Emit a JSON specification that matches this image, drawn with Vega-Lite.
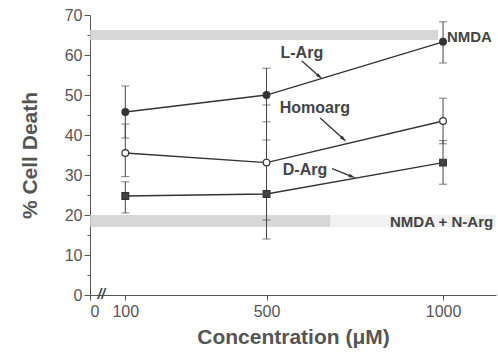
{
  "$schema": "https://vega.github.io/schema/vega-lite/v6.json",
  "width": 406,
  "height": 280,
  "autosize": "none",
  "padding": {"left": 90, "top": 15, "right": 2, "bottom": 57},
  "background": "white",
  "config": {
    "view": {"stroke": null},
    "font": "Liberation Sans",
    "axis": {
      "grid": false,
      "domainColor": "#555",
      "tickColor": "#555",
      "labelColor": "#555",
      "labelFont": "Liberation Sans",
      "labelFontSize": 16,
      "titleFont": "Liberation Sans",
      "titleFontSize": 21,
      "titleFontWeight": "bold",
      "titleColor": "#555"
    },
    "axisX": {"format": "d", "tickSize": 5, "labelPadding": 3, "titlePadding": 7},
    "axisY": {
      "labelExpr": "datum.value % 10 === 0 ? datum.label : ''",
      "tickSize": {"condition": {"test": "datum.value % 10 === 0", "value": 6}, "value": 3},
      "labelPadding": 2, "titlePadding": 24
    }
  },
  "datasets": {
    "series": [
      {"series": "L-Arg", "conc": 100, "mean": 45.75, "lo": 39.25, "hi": 52.25},
      {"series": "L-Arg", "conc": 500, "mean": 50.0, "lo": 43.3, "hi": 56.7},
      {"series": "L-Arg", "conc": 1000, "mean": 63.3, "lo": 58.0, "hi": 68.3},
      {"series": "Homoarg", "conc": 100, "mean": 35.5, "lo": 29.6, "hi": 42.75},
      {"series": "Homoarg", "conc": 500, "mean": 33.1, "lo": 18.75, "hi": 47.5},
      {"series": "Homoarg", "conc": 1000, "mean": 43.5, "lo": 37.8, "hi": 49.2},
      {"series": "D-Arg", "conc": 100, "mean": 24.75, "lo": 20.5, "hi": 28.3},
      {"series": "D-Arg", "conc": 500, "mean": 25.25, "lo": 14.0, "hi": 38.75},
      {"series": "D-Arg", "conc": 1000, "mean": 33.1, "lo": 27.7, "hi": 38.6}
    ],
    "bands": [
      {"band": "NMDA", "part": "main", "x": 0, "x2": 986, "y": 63.75, "y2": 66.25},
      {"band": "NMDA + N-Arg", "part": "main", "x": 0, "x2": 680, "y": 17.0, "y2": 20.0},
      {"band": "NMDA + N-Arg", "part": "faint", "x": 680, "x2": 1150, "y": 17.0, "y2": 20.0}
    ],
    "labels": [
      {"label": "L-Arg", "x": 600, "y": 60.5, "align": "center"},
      {"label": "Homoarg", "x": 637, "y": 46.75, "align": "center"},
      {"label": "D-Arg", "x": 609, "y": 31.25, "align": "center"},
      {"label": "NMDA", "x": 1011, "y": 64.5, "align": "left"},
      {"label": "NMDA + N-Arg", "x": 1142, "y": 18.25, "align": "right"},
      {"label": "//", "x": 32, "y": 0, "align": "center"}
    ],
    "arrows": [
      {"label": "L-Arg", "x": 600, "y": 58.5, "x2": 650, "y2": 54.6},
      {"label": "Homoarg", "x": 652, "y": 44.25, "x2": 718, "y2": 39.0},
      {"label": "D-Arg", "x": 686, "y": 31.6, "x2": 742, "y2": 29.6}
    ]
  },
  "layer": [
    {
      "data": {"name": "bands"},
      "transform": [{"filter": "datum.part === 'main'"}],
      "mark": {"type": "rect", "color": "#d0d0d0", "opacity": 0.85},
      "encoding": {
        "x": {"field": "x", "type": "quantitative", "scale": {"domain": [0, 1150], "nice": false}, "title": "Concentration (μM)", "axis": {"values": [0, 100, 500, 1000]}},
        "x2": {"field": "x2"},
        "y": {"field": "y", "type": "quantitative", "scale": {"domain": [0, 70], "nice": false}, "title": "% Cell Death", "axis": {"values": [0, 5, 10, 15, 20, 25, 30, 35, 40, 45, 50, 55, 60, 65, 70]}},
        "y2": {"field": "y2"}
      }
    },
    {
      "data": {"name": "bands"},
      "transform": [{"filter": "datum.part === 'faint'"}],
      "mark": {"type": "rect", "color": "#d0d0d0", "opacity": 0.3},
      "encoding": {
        "x": {"field": "x", "type": "quantitative", "title": "Concentration (μM)", "axis": {"values": [0, 100, 500, 1000]}},
        "x2": {"field": "x2"},
        "y": {"field": "y", "type": "quantitative", "title": "% Cell Death", "axis": {"values": [0, 5, 10, 15, 20, 25, 30, 35, 40, 45, 50, 55, 60, 65, 70]}},
        "y2": {"field": "y2"}
      }
    },
    {
      "data": {"name": "series"},
      "mark": {"type": "errorbar", "ticks": {"size": 8, "color": "#444"}, "rule": {"color": "#444", "strokeWidth": 1}},
      "encoding": {
        "x": {"field": "conc", "type": "quantitative", "title": "Concentration (μM)", "axis": {"values": [0, 100, 500, 1000]}},
        "y": {"field": "lo", "type": "quantitative", "title": "% Cell Death", "axis": {"values": [0, 5, 10, 15, 20, 25, 30, 35, 40, 45, 50, 55, 60, 65, 70]}},
        "y2": {"field": "hi"}
      }
    },
    {
      "data": {"name": "series"},
      "mark": {"type": "line", "color": "#333", "strokeWidth": 1.3},
      "encoding": {
        "x": {"field": "conc", "type": "quantitative", "title": "Concentration (μM)", "axis": {"values": [0, 100, 500, 1000]}},
        "y": {"field": "mean", "type": "quantitative", "title": "% Cell Death", "axis": {"values": [0, 5, 10, 15, 20, 25, 30, 35, 40, 45, 50, 55, 60, 65, 70]}},
        "detail": {"field": "series"}
      }
    },
    {
      "data": {"name": "series"},
      "mark": {"type": "point", "strokeWidth": 1.2, "opacity": 1},
      "encoding": {
        "x": {"field": "conc", "type": "quantitative", "title": "Concentration (μM)", "axis": {"values": [0, 100, 500, 1000]}},
        "y": {"field": "mean", "type": "quantitative", "title": "% Cell Death", "axis": {"values": [0, 5, 10, 15, 20, 25, 30, 35, 40, 45, 50, 55, 60, 65, 70]}},
        "shape": {"field": "series", "type": "nominal", "legend": null,
          "scale": {"domain": ["L-Arg", "Homoarg", "D-Arg"], "range": ["circle", "circle", "square"]}},
        "fill": {"field": "series", "type": "nominal", "legend": null,
          "scale": {"domain": ["L-Arg", "Homoarg", "D-Arg"], "range": ["#333", "white", "#444"]}},
        "stroke": {"value": "#333"},
        "size": {"field": "series", "type": "nominal", "legend": null,
          "scale": {"domain": ["L-Arg", "Homoarg", "D-Arg"], "range": [45, 45, 60]}}
      }
    },
    {
      "data": {"name": "arrows"},
      "mark": {"type": "rule", "color": "#333", "strokeWidth": 1.3},
      "encoding": {
        "x": {"field": "x", "type": "quantitative", "title": "Concentration (μM)", "axis": {"values": [0, 100, 500, 1000]}},
        "y": {"field": "y", "type": "quantitative", "title": "% Cell Death", "axis": {"values": [0, 5, 10, 15, 20, 25, 30, 35, 40, 45, 50, 55, 60, 65, 70]}},
        "x2": {"field": "x2"},
        "y2": {"field": "y2"}
      }
    },
    {
      "data": {"name": "arrows"},
      "transform": [{"filter": "datum.label !== 'D-Arg'"}],
      "mark": {"type": "point", "shape": "M0,-1.3L0.55,1L-0.55,1Z", "filled": true, "color": "#333", "size": 40, "angle": 131, "opacity": 1},
      "encoding": {
        "x": {"field": "x2", "type": "quantitative", "title": "Concentration (μM)", "axis": {"values": [0, 100, 500, 1000]}},
        "y": {"field": "y2", "type": "quantitative", "title": "% Cell Death", "axis": {"values": [0, 5, 10, 15, 20, 25, 30, 35, 40, 45, 50, 55, 60, 65, 70]}}
      }
    },
    {
      "data": {"name": "arrows"},
      "transform": [{"filter": "datum.label === 'D-Arg'"}],
      "mark": {"type": "point", "shape": "M0,-1.3L0.55,1L-0.55,1Z", "filled": true, "color": "#333", "size": 40, "angle": 111, "opacity": 1},
      "encoding": {
        "x": {"field": "x2", "type": "quantitative", "title": "Concentration (μM)", "axis": {"values": [0, 100, 500, 1000]}},
        "y": {"field": "y2", "type": "quantitative", "title": "% Cell Death", "axis": {"values": [0, 5, 10, 15, 20, 25, 30, 35, 40, 45, 50, 55, 60, 65, 70]}}
      }
    },
    {
      "data": {"name": "labels"},
      "transform": [{"filter": "datum.align === 'center' && datum.label !== '//'"}],
      "mark": {"type": "text", "fontWeight": "bold", "fontSize": 16, "color": "#444", "baseline": "middle", "align": "center"},
      "encoding": {
        "x": {"field": "x", "type": "quantitative", "title": "Concentration (μM)", "axis": {"values": [0, 100, 500, 1000]}},
        "y": {"field": "y", "type": "quantitative", "title": "% Cell Death", "axis": {"values": [0, 5, 10, 15, 20, 25, 30, 35, 40, 45, 50, 55, 60, 65, 70]}},
        "text": {"field": "label"}
      }
    },
    {
      "data": {"name": "labels"},
      "transform": [{"filter": "datum.align === 'left'"}],
      "mark": {"type": "text", "fontWeight": "bold", "fontSize": 15, "color": "#444", "baseline": "middle", "align": "left"},
      "encoding": {
        "x": {"field": "x", "type": "quantitative", "title": "Concentration (μM)", "axis": {"values": [0, 100, 500, 1000]}},
        "y": {"field": "y", "type": "quantitative", "title": "% Cell Death", "axis": {"values": [0, 5, 10, 15, 20, 25, 30, 35, 40, 45, 50, 55, 60, 65, 70]}},
        "text": {"field": "label"}
      }
    },
    {
      "data": {"name": "labels"},
      "transform": [{"filter": "datum.align === 'right'"}],
      "mark": {"type": "text", "fontWeight": "bold", "fontSize": 15, "color": "#444", "baseline": "middle", "align": "right"},
      "encoding": {
        "x": {"field": "x", "type": "quantitative", "title": "Concentration (μM)", "axis": {"values": [0, 100, 500, 1000]}},
        "y": {"field": "y", "type": "quantitative", "title": "% Cell Death", "axis": {"values": [0, 5, 10, 15, 20, 25, 30, 35, 40, 45, 50, 55, 60, 65, 70]}},
        "text": {"field": "label"}
      }
    },
    {
      "data": {"name": "labels"},
      "transform": [{"filter": "datum.label === '//'"}],
      "mark": {"type": "text", "fontSize": 14, "fontWeight": "bold", "color": "#444", "baseline": "middle", "align": "center", "fontStyle": "italic"},
      "encoding": {
        "x": {"field": "x", "type": "quantitative", "title": "Concentration (μM)", "axis": {"values": [0, 100, 500, 1000]}},
        "y": {"field": "y", "type": "quantitative", "title": "% Cell Death", "axis": {"values": [0, 5, 10, 15, 20, 25, 30, 35, 40, 45, 50, 55, 60, 65, 70]}},
        "text": {"field": "label"}
      }
    }
  ]
}
